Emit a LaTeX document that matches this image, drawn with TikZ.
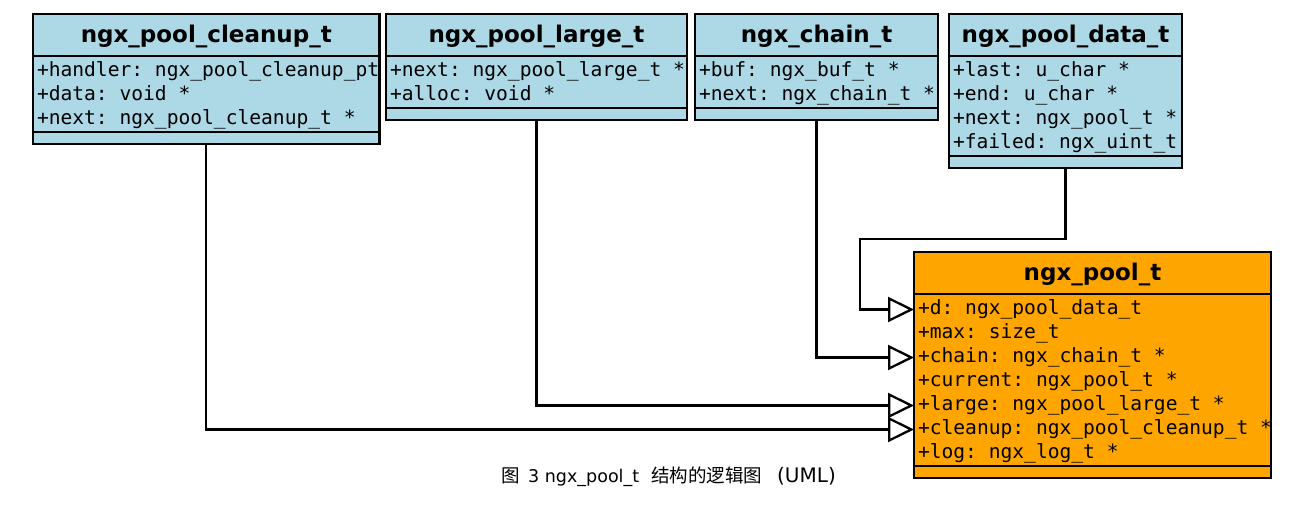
\documentclass[tikz,border=0pt]{standalone}
\usepackage{fontspec}
\setmainfont{DejaVu Sans}
\setmonofont{DejaVu Sans Mono}
\newfontfamily\cjk[Scale=1.057]{Noto Sans CJK SC}
\usetikzlibrary{arrows.meta}
\definecolor{umlblue}{HTML}{ADD8E6}
\definecolor{umlorange}{HTML}{FFA500}

\begin{document}
\begin{tikzpicture} [
        x = 1pt, y = -1pt,
        box/.style = { draw, fill = umlblue, line width = 2.6pt, inner sep = 0, outer sep = 0, anchor = north west },
        title/.style = { box, minimum height = 42pt, text height = 18.5pt, text depth = 4pt,
            font = \fontsize{23}{28}\selectfont\bfseries },
        attrs/.style = { box, minimum height = #1*24pt + 4pt },
        foot/.style = { box, minimum height = 12pt },
        row/.style = { inner xsep = 4pt, inner ysep = 0, outer sep = 0, anchor = north west, minimum height = 24pt,
            text height = 15pt, text depth = 4.5pt, font = \fontsize{19.6}{24}\selectfont\ttfamily },
        link/.style = { line width = 2.3pt, -{Triangle[open, length = 26pt, width = 25pt]} }
        ]
        \useasboundingbox (0,0) rectangle (1304,512);

        \node [title, minimum width = 346.5pt] (cleanup) at (33,14) {ngx\_pool\_cleanup\_t};
        \node [attrs = 3, minimum width = 346.5pt] (cleanupA) at (cleanup.south west) {};
        \node [foot, minimum width = 346.5pt] (cleanupF) at (cleanupA.south west) {};
        \foreach \t [count = \i] in {{+handler: ngx\_pool\_cleanup\_pt}, {+data: void *}, {+next: ngx\_pool\_cleanup\_t *}}
            \node [row] (cleanup\i) at ([yshift = 20.5-24*\i]cleanupA.north west) {\t};

        \node [title, minimum width = 301pt] (large) at (386,14) {ngx\_pool\_large\_t};
        \node [attrs = 2, minimum width = 301pt] (largeA) at (large.south west) {};
        \node [foot, minimum width = 301pt] (largeF) at (largeA.south west) {};
        \foreach \t [count = \i] in {{+next: ngx\_pool\_large\_t *}, {+alloc: void *}}
            \node [row] (large\i) at ([yshift = 20.5-24*\i]largeA.north west) {\t};

        \node [title, minimum width = 243pt] (chain) at (695,14) {ngx\_chain\_t};
        \node [attrs = 2, minimum width = 243pt] (chainA) at (chain.south west) {};
        \node [foot, minimum width = 243pt] (chainF) at (chainA.south west) {};
        \foreach \t [count = \i] in {{+buf: ngx\_buf\_t *}, {+next: ngx\_chain\_t *}}
            \node [row] (chain\i) at ([yshift = 20.5-24*\i]chainA.north west) {\t};

        \node [title, minimum width = 233pt] (data) at (949,14) {ngx\_pool\_data\_t};
        \node [attrs = 4, minimum width = 233pt] (dataA) at (data.south west) {};
        \node [foot, minimum width = 233pt] (dataF) at (dataA.south west) {};
        \foreach \t [count = \i] in {{+last: u\_char *}, {+end: u\_char *}, {+next: ngx\_pool\_t *}, {+failed: ngx\_uint\_t}}
            \node [row] (data\i) at ([yshift = 20.5-24*\i]dataA.north west) {\t};

        \node [title, fill = umlorange, minimum width = 357pt] (pool) at (914,252) {ngx\_pool\_t};
        \node [attrs = 7, fill = umlorange, minimum width = 357pt] (poolA) at (pool.south west) {};
        \node [foot, fill = umlorange, minimum width = 357pt] (poolF) at (poolA.south west) {};
        \foreach \f/\t [count = \i] in {d/{+d: ngx\_pool\_data\_t}, max/{+max: size\_t}, chain/{+chain: ngx\_chain\_t *},
            current/{+current: ngx\_pool\_t *}, large/{+large: ngx\_pool\_large\_t *},
            cleanup/{+cleanup: ngx\_pool\_cleanup\_t *}, log/{+log: ngx\_log\_t *}}
            \node [row] (pool-\f) at ([yshift = 20.5-24*\i]poolA.north west) {\t};

        \coordinate (bend) at (860,239);
        \draw [link] (dataF.south) |- (bend) |- (pool-d.west -| poolA.west);
        \draw [link] (chainF.south) |- (pool-chain.west -| poolA.west);
        \draw [link] (largeF.south) |- (pool-large.west -| poolA.west);
        \draw [link] (cleanupF.south) |- (pool-cleanup.west -| poolA.west);

        \node [anchor = west, inner sep = 0, font = \fontsize{17.5}{20}\selectfont] (caption) at (501,477)
            {{\cjk 图}\hspace{8.5pt}3 ngx\_pool\_t\hspace{12pt}{\cjk 结构的逻辑图}\hspace{15pt}{\fontsize{20}{20}\selectfont(UML)}};
\end{tikzpicture}
\end{document}
